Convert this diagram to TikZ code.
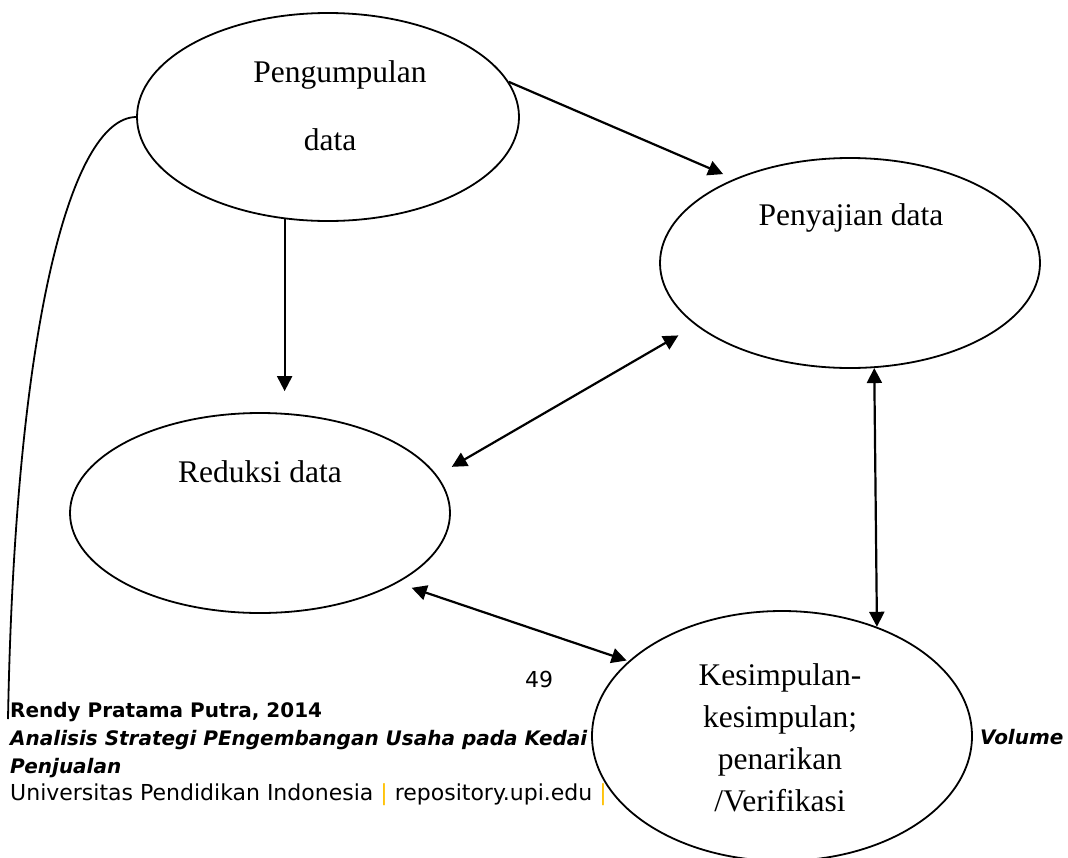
\documentclass[tikz,border=0pt]{standalone}
\usepackage{fontspec}
\setmainfont{Liberation Serif}
\newfontfamily\footfont{DejaVu Sans}[ItalicFont={DejaVu Sans Oblique},BoldItalicFont={DejaVu Sans Bold Oblique}]
\usetikzlibrary{arrows.meta,shapes.geometric,positioning}
\definecolor{barorange}{HTML}{FFC000}

\begin{document}
\begin{tikzpicture}[x=1pt,y=-1pt,
              oval/.style={ellipse, draw, line width=1.8pt, fill=white, inner sep=0pt},
              lbl/.style={font=\fontsize{31.5}{42}\selectfont, inner sep=0pt, align=center},
              arr/.style={line width=2.2pt, -{Triangle[length=15pt,width=15pt]}},
              darr/.style={line width=2.2pt, {Triangle[length=15pt,width=15pt]}-{Triangle[length=15pt,width=15pt]}},
              foot/.style={font=\footfont\fontsize{22}{28}\selectfont, anchor=base west, inner sep=0pt},
              footb/.style={foot, font=\footfont\bfseries\fontsize{20}{28}\selectfont},
              footbi/.style={foot, font=\footfont\bfseries\itshape\fontsize{20}{28}\selectfont},
             ]
\useasboundingbox (0,0) rectangle (1068,857);
% page footer, partly hidden by the ovals
\node[footb] (author) at (10,717) {Rendy Pratama Putra, 2014};
\node[footbi] (title) at (10,745) {Analisis Strategi PEngembangan Usaha pada Kedai};
\node[footbi] (titleend) at (980,744) {Volume};
\node[footbi] (title2) at (10,773) {Penjualan};
\node[foot] (univ) at (10,800) {Universitas Pendidikan Indonesia {\color{barorange}|} repository.upi.edu {\color{barorange}|}};
\node[font=\footfont\fontsize{22}{28}\selectfont, anchor=base, inner sep=0pt] (page) at (539,687) {49};

% ovals
\node[oval, minimum width=382pt, minimum height=208pt] (pengumpulan) at (328,117) {};
\node[oval, minimum width=380pt, minimum height=210pt] (penyajian) at (850,263) {};
\node[oval, minimum width=380pt, minimum height=200pt] (reduksi) at (260,513) {};
\node[oval, minimum width=380pt, minimum height=250pt] (kesimpulan) at (782,736) {};

\node[lbl] (tpeng) at (340,75) {Pengumpulan};
\node[lbl] (tdata) at (330,140) {data};
\node[lbl] (tpeny) at (851,218) {Penyajian data};
\node[lbl] (tred) at (260,472) {Reduksi data};
\node[lbl] (tkes) at (780,738) {Kesimpulan-\\kesimpulan;\\penarikan\\/Verifikasi};

% connectors
\coordinate (curveend) at (8,719);
\draw[line width=1.8pt] (pengumpulan.west) .. controls (70,118) and (15,330) .. (curveend);
\draw[arr, shorten >=12pt] (pengumpulan.11) -- (penyajian.144);
\draw[arr, shorten >=21pt] (pengumpulan.247) -- (pengumpulan.247 |- reduksi.north);
\draw[darr, shorten <=17pt, shorten >=20pt] (reduksi.12) -- (penyajian.202);
\draw[darr] (penyajian.283) -- (kesimpulan.49);
\draw[darr, shorten <=15pt, shorten >=2pt] (reduksi.333) -- (kesimpulan.154);
\end{tikzpicture}
\end{document}
